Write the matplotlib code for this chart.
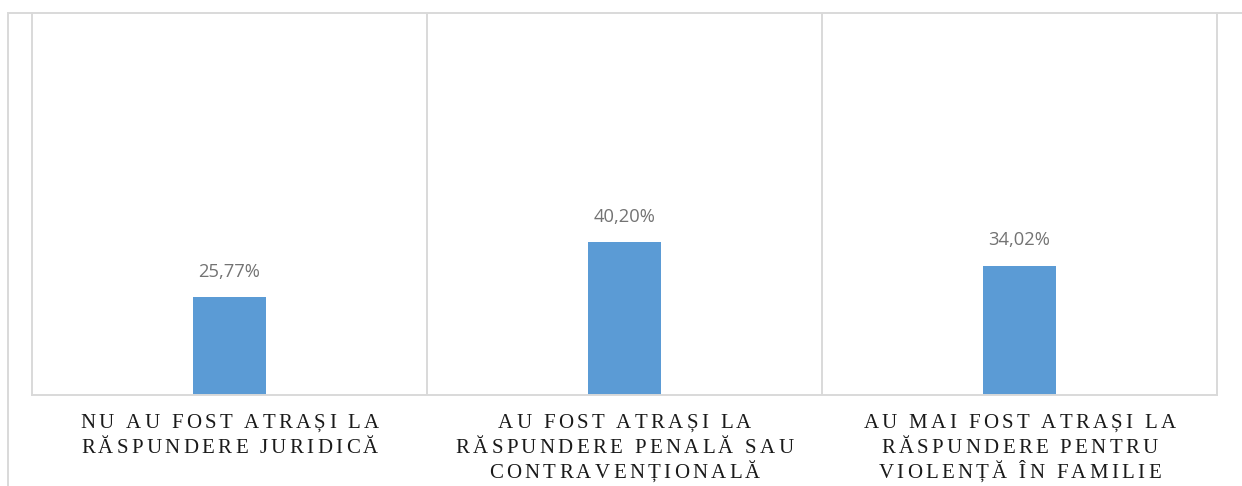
import numpy as np
import matplotlib.pyplot as plt
from matplotlib.patches import Rectangle
from matplotlib.font_manager import FontProperties

categories = [
    ["NU AU FOST ATRAȘI LA", "RĂSPUNDERE JURIDICĂ"],
    ["AU FOST ATRAȘI LA", "RĂSPUNDERE PENALĂ SAU", "CONTRAVENȚIONALĂ"],
    ["AU MAI FOST ATRAȘI LA", "RĂSPUNDERE PENTRU", "VIOLENȚĂ ÎN FAMILIE"],
]
values = [25.77, 40.20, 34.02]
value_labels = ["25,77%", "40,20%", "34,02%"]

GRID = '#d9d9d9'
BAR = '#5b9bd5'

W, H = 1242, 486
fig = plt.figure(figsize=(W / 100, H / 100), dpi=100)

# outer chart frame (cropped on the right and bottom)
fig.patches.append(Rectangle((8 / W, -0.1), 1.2, 1 - 13 / H + 0.1,
                             transform=fig.transFigure, fill=False,
                             edgecolor=GRID, lw=1.4))

ax = fig.add_axes([32 / W, 1 - 395 / H, (1217 - 32) / W, (395 - 13) / H])
x = np.arange(len(values))
ax.bar(x, values, width=0.185, color=BAR)
for xi, v, lab in zip(x, values, value_labels):
    ax.text(xi, v + 4.3, lab, ha='center', va='bottom',
            fontsize=13.2, color='#737373', family='Open Sans')

ax.set_xlim(-0.5, 2.5)
ax.set_ylim(0, 100.5)
ax.set_yticks([])
ax.set_xticks([])
for xb in [0.5, 1.5]:
    ax.axvline(xb, color=GRID, lw=1.4)
for s in ['left', 'right', 'bottom']:
    ax.spines[s].set_color(GRID)
    ax.spines[s].set_linewidth(1.4)
ax.spines['top'].set_visible(False)

# category labels: spaced-out serif capitals, drawn letter by letter
prop = FontProperties(family='Liberation Serif', size=15)
renderer = fig.canvas.get_renderer()
spacing = 3.3  # px between letters
baselines = [428, 453, 477.5]
for xi, lines in zip(x, categories):
    cx = ax.transData.transform((xi, 0))[0]
    for line, by in zip(lines, baselines):
        widths = [renderer.get_text_width_height_descent(c, prop, ismath=False)[0]
                  for c in line]
        total = sum(widths) + spacing * (len(line) - 1)
        px = cx - total / 2
        for c, w in zip(line, widths):
            fig.text(px / W, 1 - by / H, c, fontproperties=prop,
                     color='#1a1a1a', ha='left', va='baseline')
            px += w + spacing

fig.savefig('out.png', dpi=100)
